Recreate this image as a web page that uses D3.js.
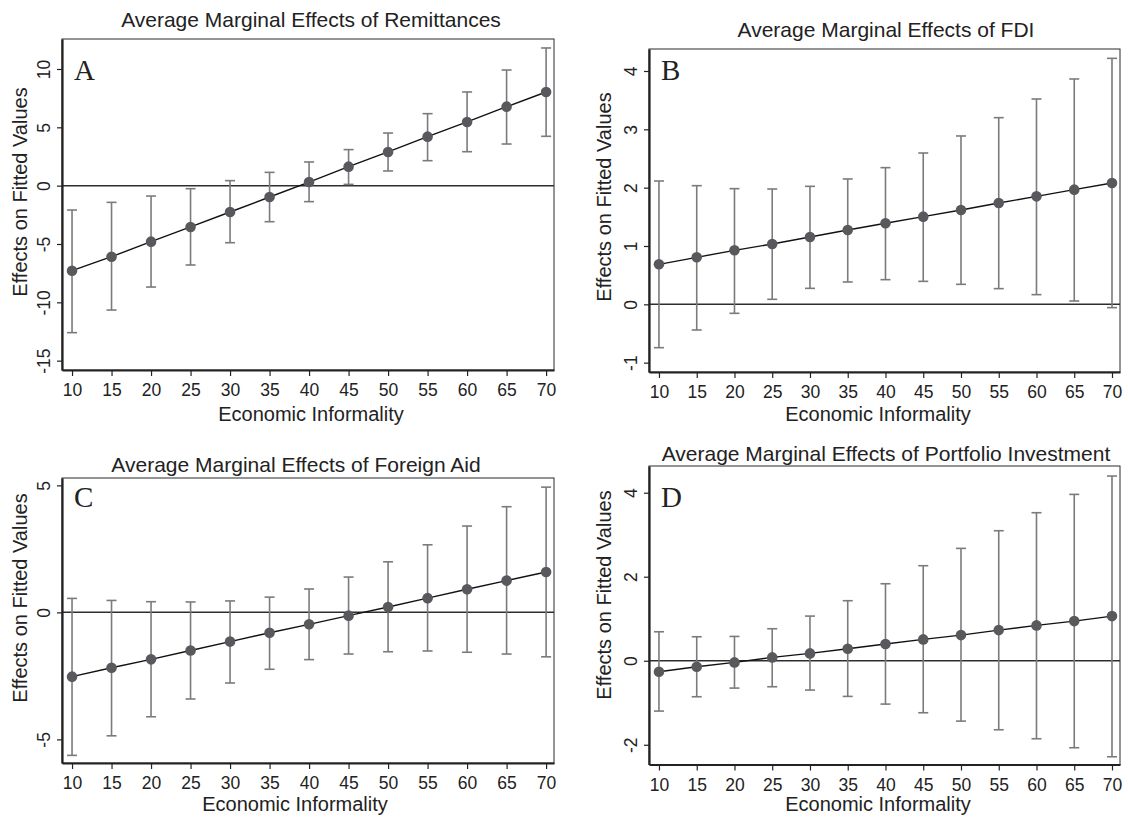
<!DOCTYPE html>
<html>
<head>
<meta charset="utf-8">
<script src="https://cdn.jsdelivr.net/npm/d3@7"></script>
<style>
  body { margin: 0; background: #fff; }
  svg { display: block; }
  text { font-family: "Liberation Sans", Arial, sans-serif; fill: #222; }
</style>
</head>
<body>
<svg id="chart" width="1128" height="819"></svg>
<script>
// x values (economic informality)
const informality = [10, 15, 20, 25, 30, 35, 40, 45, 50, 55, 60, 65, 70];

// A - remittances
const remitMean = [-7.29, -6.09, -4.80, -3.54, -2.26, -0.97, 0.31, 1.63, 2.89, 4.20, 5.46, 6.77, 8.03];
const remitLow  = [-12.6, -10.66, -8.69, -6.80, -4.89, -3.09, -1.37, 0.11, 1.26, 2.14, 2.91, 3.57, 4.23];
const remitHigh = [-2.09, -1.43, -0.89, -0.26, 0.43, 1.14, 2.03, 3.09, 4.51, 6.17, 8.03, 9.91, 11.8];

// B - FDI
const fdiMean = [0.686, 0.806, 0.926, 1.034, 1.154, 1.274, 1.389, 1.503, 1.617, 1.737, 1.851, 1.966, 2.08];
const fdiLow  = [-0.743, -0.44, -0.154, 0.086, 0.274, 0.383, 0.423, 0.394, 0.343, 0.269, 0.166, 0.057, -0.057];
const fdiHigh = [2.114, 2.034, 1.983, 1.977, 2.023, 2.149, 2.343, 2.594, 2.886, 3.20, 3.52, 3.863, 4.217];

// C - foreign aid
const aidMean = [-2.53, -2.18, -1.85, -1.50, -1.15, -0.80, -0.47, -0.13, 0.21, 0.56, 0.91, 1.25, 1.59];
const aidLow  = [-5.63, -4.86, -4.11, -3.41, -2.78, -2.24, -1.86, -1.64, -1.55, -1.52, -1.57, -1.64, -1.75];
const aidHigh = [0.55, 0.47, 0.42, 0.41, 0.45, 0.60, 0.92, 1.39, 1.99, 2.66, 3.40, 4.16, 4.93];

// D - portfolio investment
const portMean = [-0.262, -0.143, -0.04, 0.079, 0.175, 0.286, 0.397, 0.508, 0.611, 0.73, 0.841, 0.944, 1.063];
const portLow  = [-1.198, -0.857, -0.651, -0.619, -0.698, -0.849, -1.032, -1.238, -1.437, -1.643, -1.857, -2.071, -2.286];
const portHigh = [0.69, 0.571, 0.579, 0.762, 1.063, 1.429, 1.833, 2.262, 2.675, 3.095, 3.524, 3.96, 4.397];

// y tick labels per panel
const remitTicks = [-15, -10, -5, 0, 5, 10];
const fdiTicks = [-1, 0, 1, 2, 3, 4];
const aidTicks = [-5, 0, 5];
const portTicks = [-2, 0, 2, 4];

const titles = [
  "Average Marginal Effects of Remittances",
  "Average Marginal Effects of FDI",
  "Average Marginal Effects of Foreign Aid",
  "Average Marginal Effects of Portfolio Investment"
];
const letters = ["A", "B", "C", "D"];
const xTitle = "Economic Informality";
const yTitle = "Effects on Fitted Values";

// panel layout (positions only)
const layout = [
  {left: 62, right: 554, top: 39, bottom: 370, xd: [8.73, 71.0], yd: [-15.8, 12.57],
   tx: 311, ty: 27, ylx: 27, yly: 192, xlx: 311, xly: 421, lx: 74, ly: 80},
  {left: 649, right: 1120, top: 49, bottom: 372, xd: [8.68, 71.06], yd: [-1.16, 4.377],
   tx: 886, ty: 37, ylx: 611, yly: 197, xlx: 878, xly: 421, lx: 661, ly: 80},
  {left: 62, right: 554, top: 478, bottom: 763, xd: [8.73, 71.0], yd: [-5.93, 5.29],
   tx: 296, ty: 472, ylx: 27, yly: 598, xlx: 295, xly: 811, lx: 74, ly: 507},
  {left: 649, right: 1120, top: 466, bottom: 764.5, xd: [8.68, 71.06], yd: [-2.47, 4.636],
   tx: 886, ty: 461, ylx: 611, yly: 595, xlx: 878, xly: 811, lx: 661, ly: 507}
];

const series = [
  {mean: remitMean, low: remitLow, high: remitHigh, ticks: remitTicks},
  {mean: fdiMean, low: fdiLow, high: fdiHigh, ticks: fdiTicks},
  {mean: aidMean, low: aidLow, high: aidHigh, ticks: aidTicks},
  {mean: portMean, low: portLow, high: portHigh, ticks: portTicks}
];

const svg = d3.select("#chart");

// plain hyphen minus, no decimals
const fmt = d => String(d);

series.forEach((s, i) => {
  const L = layout[i];
  const x = d3.scaleLinear().domain(L.xd).range([L.left, L.right]);
  const y = d3.scaleLinear().domain(L.yd).range([L.bottom, L.top]);
  const g = svg.append("g");

  // frame
  g.append("rect")
    .attr("x", L.left).attr("y", L.top)
    .attr("width", L.right - L.left).attr("height", L.bottom - L.top)
    .attr("fill", "none").attr("stroke", "#2a2a2a").attr("stroke-width", 1);

  // zero line
  g.append("line")
    .attr("x1", L.left).attr("x2", L.right)
    .attr("y1", y(0)).attr("y2", y(0))
    .attr("stroke", "#2e2e2e").attr("stroke-width", 1.5);

  // x axis
  const xa = g.append("g")
    .attr("transform", "translate(0," + L.bottom + ")")
    .call(d3.axisBottom(x).tickValues(informality).tickFormat(fmt).tickSize(6).tickSizeOuter(0));
  xa.select(".domain").attr("stroke", "#222").attr("stroke-width", 2.2);
  xa.selectAll(".tick line").attr("stroke", "#222").attr("stroke-width", 1.2);
  xa.selectAll(".tick text")
    .attr("y", 26).attr("dy", 0)
    .style("font-size", "17.5px").attr("fill", "#222");

  // y axis with rotated labels
  const ya = g.append("g")
    .attr("transform", "translate(" + L.left + ",0)")
    .call(d3.axisLeft(y).tickValues(s.ticks).tickFormat(fmt).tickSize(5).tickSizeOuter(0));
  ya.select(".domain").attr("stroke", "#222").attr("stroke-width", 2.2);
  ya.selectAll(".tick line").attr("stroke", "#222").attr("stroke-width", 1.2);
  ya.selectAll(".tick text")
    .attr("transform", "rotate(-90)")
    .attr("x", 0).attr("y", -12).attr("dy", 0)
    .attr("text-anchor", "middle")
    .style("font-size", "17.5px").attr("fill", "#222");

  // error bars
  const bars = g.append("g").selectAll("g")
    .data(informality.map((v, k) => ({x: v, lo: s.low[k], hi: s.high[k]})))
    .join("g")
    .attr("stroke", "#7b7b7b").attr("stroke-width", 1.6);
  bars.append("line")
    .attr("x1", d => x(d.x)).attr("x2", d => x(d.x))
    .attr("y1", d => y(d.lo)).attr("y2", d => y(d.hi));
  bars.append("line")
    .attr("x1", d => x(d.x) - 5).attr("x2", d => x(d.x) + 5)
    .attr("y1", d => y(d.lo)).attr("y2", d => y(d.lo));
  bars.append("line")
    .attr("x1", d => x(d.x) - 5).attr("x2", d => x(d.x) + 5)
    .attr("y1", d => y(d.hi)).attr("y2", d => y(d.hi));

  // connecting line
  const pts = informality.map((v, k) => [v, s.mean[k]]);
  g.append("path")
    .datum(pts)
    .attr("fill", "none").attr("stroke", "#111").attr("stroke-width", 1.4)
    .attr("d", d3.line().x(d => x(d[0])).y(d => y(d[1])));

  // markers
  g.append("g").selectAll("circle")
    .data(pts)
    .join("circle")
    .attr("cx", d => x(d[0])).attr("cy", d => y(d[1]))
    .attr("r", 5.3).attr("fill", "#59595d");

  // titles
  g.append("text")
    .attr("x", L.tx).attr("y", L.ty)
    .attr("text-anchor", "middle")
    .style("font-size", "21px")
    .text(titles[i]);

  g.append("text")
    .attr("x", L.xlx).attr("y", L.xly)
    .attr("text-anchor", "middle")
    .style("font-size", "20px")
    .text(xTitle);

  g.append("text")
    .attr("transform", "translate(" + L.ylx + "," + L.yly + ") rotate(-90)")
    .attr("text-anchor", "middle")
    .style("font-size", "20px")
    .text(yTitle);

  // panel letter
  g.append("text")
    .attr("x", L.lx).attr("y", L.ly)
    .style("font-family", "'Liberation Serif', 'Times New Roman', serif")
    .style("font-size", "29px")
    .text(letters[i]);
});
</script>
</body>
</html>
